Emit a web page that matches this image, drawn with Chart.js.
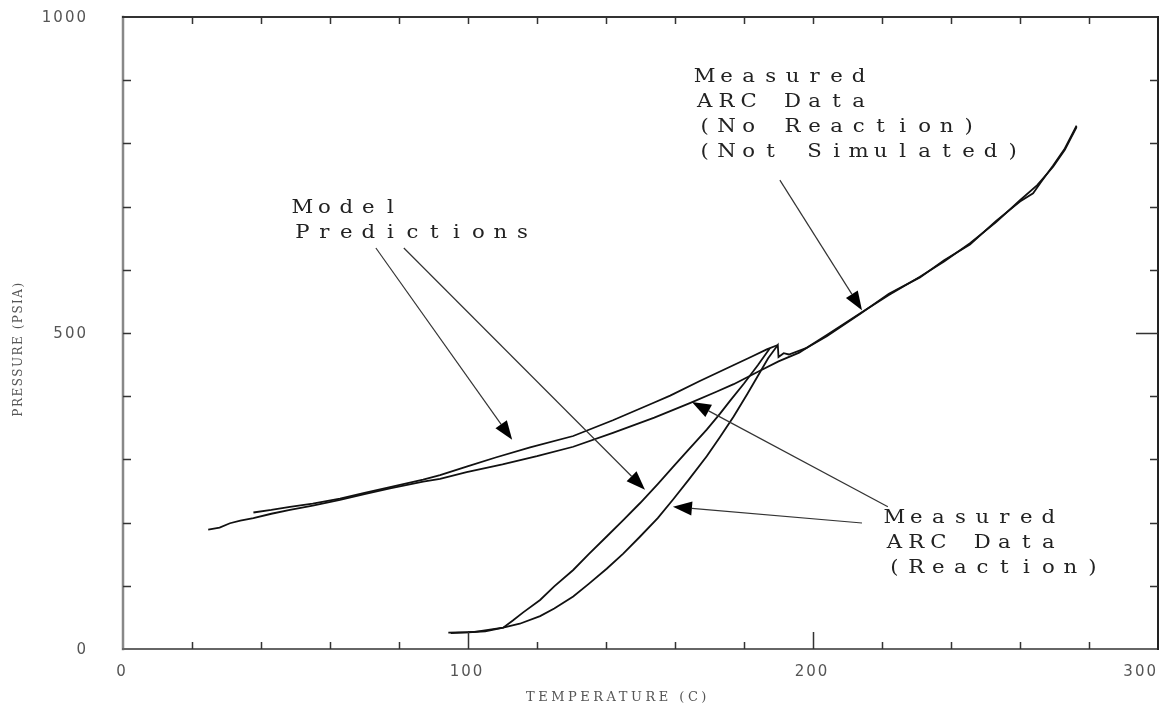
<!DOCTYPE html>
<html>
<head>
<meta charset="utf-8">
<script src="https://cdn.jsdelivr.net/npm/chart.js@4.4.0/dist/chart.umd.min.js"></script>
<style>
  html, body { margin: 0; padding: 0; background: #fff; }
  #wrap { width: 1162px; height: 704px; }
</style>
</head>
<body>
<div id="wrap"><canvas id="chart" width="1162" height="704"></canvas></div>
<script>
// Measured ARC data, no reaction (lower of the two upper curves, continues to the end)
const measuredT = [24.7, 28, 31, 34, 37.8, 43, 48.4, 55, 62.9, 70, 77.4, 87, 91.9, 99.6, 110, 120, 130.5, 142, 154, 164.3, 172, 177, 184.2, 190, 196, 204, 213.6, 222, 231, 238, 245.5, 253, 260, 265, 269.6, 273, 276.4];
const measuredP = [189, 192, 199, 203, 207, 214, 220, 227, 236, 245, 254, 265, 269, 280, 292, 305, 320, 342, 366, 389, 407, 419, 439, 455, 469, 497, 531, 560, 589, 613, 642, 675, 710, 734, 763, 790, 826];

// Model prediction, upper curve (ends at the peak)
const modelT = [37.8, 43, 48.4, 55, 62.9, 70, 77.4, 87, 91.9, 99.6, 108, 118, 130.5, 142, 154, 158.6, 167.2, 176.9, 182, 186.6, 189.8];
const modelP = [216, 220, 225, 230, 238, 247, 256, 268, 275, 288.6, 303, 319, 337, 362, 390, 401, 424, 449, 462, 474, 481];

// Model prediction with reaction (left branch)
const modelRxnT = [94.3, 100, 105, 110.2, 113, 116, 120.9, 125, 130.5, 135, 140.2, 145, 149.9, 155, 159.5, 164, 169.2, 173, 176, 180, 184, 187.5];
const modelRxnP = [25.8, 26.5, 28, 33.7, 45, 58, 77.5, 99, 125, 150, 178, 204, 231, 261, 288.5, 316, 347, 372, 393, 420, 449, 476];

// Measured ARC data with reaction (right branch, drops at peak and follows the no-reaction curve)
const measuredRxnT = [95, 102, 110.2, 115, 120.9, 125, 130.5, 135, 140.2, 145, 149.9, 155, 159.5, 164, 169.2, 173, 177, 181, 184, 187, 189.8, 190, 191.5, 193, 198, 204, 213.6, 222, 231, 238, 245.5, 253, 260, 263.8, 266, 269.6, 273, 276.4];
const measuredRxnP = [25, 27, 33.7, 40, 52, 64, 83, 103, 127, 151, 178, 207, 237, 268, 305, 335, 368, 404, 432, 460, 481, 462, 468, 466, 476, 495, 530, 562, 588, 615, 640, 677, 708, 721, 738, 765, 792, 828];

// axis ticks
const xTickLabels = [0, 100, 200, 300];
const xTickMarks = [20, 40, 60, 80, 100, 120, 140, 160, 180, 200, 220, 240, 260, 280];
const yTickLabels = [0, 500, 1000];
const yTickMarks = [100, 200, 300, 400, 500, 600, 700, 800, 900];

const xTitle = 'TEMPERATURE (C)';
const yTitle = 'PRESSURE (PSIA)';

// annotations: text lines anchored at data coords, arrows from -> tip in data coords
const notes = [
  { t: 166.7, p: 897, lines: ['Measured', 'ARC Data', '(No Reaction)', '(Not Simulated)'] },
  { t: 50.1, p: 690, lines: ['Model', 'Predictions'] },
  { t: 221.7, p: 199, lines: ['Measured', 'ARC Data', '(Reaction)'] }
];
const arrows = [
  [190.4, 742, 214.2, 536],
  [73.3, 634.5, 112.8, 331],
  [81.4, 634.5, 151.3, 252],
  [221.7, 225, 164.9, 391],
  [214.2, 199.4, 159.4, 225]
];

const toXY = (ts, ps) => ts.map((t, i) => ({ x: t, y: ps[i] }));

const lineStyle = {
  showLine: true,
  borderColor: '#111',
  borderWidth: 1.8,
  pointRadius: 0,
  fill: false,
  tension: 0
};

const framePlugin = {
  id: 'frame',
  afterDatasetsDraw(chart) {
    const { ctx, chartArea: a, scales: { x, y } } = chart;
    ctx.save();

    // frame
    ctx.lineCap = 'square';
    ctx.strokeStyle = '#888';
    ctx.lineWidth = 2.5;
    ctx.beginPath(); ctx.moveTo(a.left, a.top); ctx.lineTo(a.left, a.bottom); ctx.stroke();
    ctx.strokeStyle = '#666';
    ctx.lineWidth = 2;
    ctx.beginPath(); ctx.moveTo(a.left, a.bottom); ctx.lineTo(a.right, a.bottom); ctx.stroke();
    ctx.strokeStyle = '#333';
    ctx.beginPath(); ctx.moveTo(a.left, a.top); ctx.lineTo(a.right, a.top); ctx.stroke();
    ctx.strokeStyle = '#222';
    ctx.beginPath(); ctx.moveTo(a.right, a.top); ctx.lineTo(a.right, a.bottom); ctx.stroke();

    // tick marks, pointing inward
    ctx.lineCap = 'butt';
    ctx.strokeStyle = '#333';
    ctx.lineWidth = 1.5;
    xTickMarks.forEach(v => {
      const px = Math.round(x.getPixelForValue(v)) + 0.5;
      const len = xTickLabels.includes(v) ? 17 : 7;
      ctx.beginPath();
      ctx.moveTo(px, a.bottom); ctx.lineTo(px, a.bottom - len);
      ctx.moveTo(px, a.top); ctx.lineTo(px, a.top + 7);
      ctx.stroke();
    });
    yTickMarks.forEach(v => {
      const py = Math.round(y.getPixelForValue(v)) + 0.5;
      ctx.beginPath();
      ctx.moveTo(a.left, py); ctx.lineTo(a.left + 8, py);
      ctx.moveTo(a.right, py); ctx.lineTo(a.right - (v === 500 ? 22 : 8), py);
      ctx.stroke();
    });

    // tick labels
    ctx.fillStyle = '#555';
    ctx.font = '15px "DejaVu Sans"';
    ctx.letterSpacing = '2px';
    ctx.textAlign = 'center';
    ctx.textBaseline = 'middle';
    xTickLabels.forEach(v => {
      const label = String(v);
      const w = ctx.measureText(label).width;
      const cx = Math.min(x.getPixelForValue(v) - 1, chart.width - 4 - w / 2);
      ctx.fillText(label, cx, a.bottom + 23);
    });
    ctx.textAlign = 'right';
    yTickLabels.forEach(v => {
      ctx.fillText(String(v), a.left - 35, y.getPixelForValue(v) + 1);
    });

    // axis titles
    ctx.fillStyle = '#555';
    ctx.font = '13px "DejaVu Serif"';
    ctx.letterSpacing = '3.5px';
    ctx.textAlign = 'center';
    ctx.textBaseline = 'alphabetic';
    ctx.fillText(xTitle, 618, a.bottom + 52);
    ctx.save();
    ctx.translate(22, (a.top + a.bottom) / 2 + 16);
    ctx.rotate(-Math.PI / 2);
    ctx.font = '12px "DejaVu Serif"';
    ctx.letterSpacing = '1.5px';
    ctx.fillText(yTitle, 0, 0);
    ctx.restore();
    ctx.letterSpacing = '0px';

    // annotation arrows
    ctx.strokeStyle = '#333';
    ctx.fillStyle = '#000';
    ctx.lineWidth = 1.2;
    arrows.forEach(([t0, p0, t1, p1]) => {
      const x0 = x.getPixelForValue(t0), y0 = y.getPixelForValue(p0);
      const x1 = x.getPixelForValue(t1), y1 = y.getPixelForValue(p1);
      const ang = Math.atan2(y1 - y0, x1 - x0);
      const L = 19, W = 7;
      const bx = x1 - L * Math.cos(ang), by = y1 - L * Math.sin(ang);
      ctx.beginPath(); ctx.moveTo(x0, y0); ctx.lineTo(bx, by); ctx.stroke();
      ctx.beginPath();
      ctx.moveTo(x1, y1);
      ctx.lineTo(bx + W * Math.sin(ang), by - W * Math.cos(ang));
      ctx.lineTo(bx - W * Math.sin(ang), by + W * Math.cos(ang));
      ctx.closePath();
      ctx.fill();
    });

    // annotation text, set in fixed 22px cells like a typewriter face
    ctx.fillStyle = '#222';
    ctx.font = '18px "DejaVu Serif"';
    ctx.textAlign = 'center';
    ctx.textBaseline = 'alphabetic';
    notes.forEach(n => {
      const x0 = x.getPixelForValue(n.t), y0 = y.getPixelForValue(n.p);
      n.lines.forEach((line, li) => {
        [...line].forEach((ch, ci) => {
          ctx.save();
          ctx.translate(x0 + ci * 22 + 6.5, y0 + li * 25);
          ctx.scale(1.18, 1);
          ctx.fillText(ch, 0, 0);
          ctx.restore();
        });
      });
    });

    ctx.restore();
  }
};

new Chart(document.getElementById('chart'), {
  type: 'scatter',
  data: {
    datasets: [
      { label: 'Measured (no reaction)', data: toXY(measuredT, measuredP), ...lineStyle },
      { label: 'Model', data: toXY(modelT, modelP), ...lineStyle },
      { label: 'Model (reaction)', data: toXY(modelRxnT, modelRxnP), ...lineStyle },
      { label: 'Measured (reaction)', data: toXY(measuredRxnT, measuredRxnP), ...lineStyle }
    ]
  },
  options: {
    responsive: false,
    animation: false,
    layout: { padding: { top: 17, right: 4, left: 0, bottom: 0 } },
    plugins: {
      legend: { display: false },
      tooltip: { enabled: false }
    },
    scales: {
      x: {
        type: 'linear',
        min: 0,
        max: 300,
        grid: { display: false, drawTicks: false },
        border: { display: false },
        ticks: { display: false },
        afterFit(scale) { scale.height = 55; }
      },
      y: {
        type: 'linear',
        min: 0,
        max: 1000,
        grid: { display: false, drawTicks: false },
        border: { display: false },
        ticks: { display: false },
        afterFit(scale) { scale.width = 123; }
      }
    }
  },
  plugins: [framePlugin]
});
</script>
</body>
</html>
